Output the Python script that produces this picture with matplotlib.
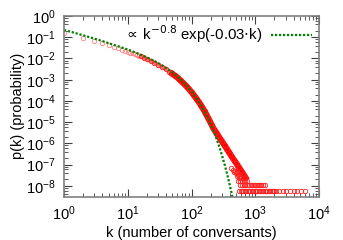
import numpy as np
import matplotlib.pyplot as plt
from matplotlib.ticker import LogLocator, NullFormatter

plt.rcParams['font.family'] = ['Liberation Sans', 'DejaVu Sans']

# measured distribution: individual points at small k
k_low = [1, 2, 3, 4, 5, 6, 7, 8, 9, 10, 11, 12, 13, 14, 15]
p_low = [0.16, 0.095, 0.066, 0.051, 0.042, 0.035, 0.030, 0.026, 0.023, 0.021,
         0.019, 0.0172, 0.0158, 0.0146, 0.0136]

# dense part of the distribution (points overlap into a band)
k_band = [16, 18, 20, 23, 26, 30, 35, 40, 45, 50, 60, 70, 80, 90, 100, 115, 130,
          145, 160, 175, 190, 205, 220, 240, 260, 280, 300, 330, 360, 400, 450,
          500, 550, 600, 650, 700]
p_band = [0.0128, 0.0108, 0.0093, 0.0076, 0.0064, 0.0051, 0.0039, 0.0031,
          0.0024, 0.0019, 0.00128, 8.2e-4, 5.6e-4, 3.8e-4, 2.6e-4, 1.5e-4, 9.0e-5,
          5.4e-5, 3.3e-5, 2.0e-5, 1.25e-5, 8.0e-6, 5.2e-6, 3.5e-6, 2.4e-6, 1.7e-6,
          1.25e-6, 8.1e-7, 5.4e-7, 3.3e-7, 1.9e-7, 1.2e-7, 7.7e-8, 5.1e-8, 3.6e-8,
          2.5e-8]

# tail: p = count * p_unit
p_unit = 5.6e-9
k_scatter = [420, 450, 480, 510, 540, 470, 500, 530, 560, 590, 520, 560, 600,
             640, 680, 540, 580, 620, 660, 700, 740]
n_scatter = [12, 10, 9, 8, 7, 8, 7, 6, 5, 5, 5, 4, 4, 4, 4, 3, 3, 3, 3, 3, 3]
k_two = [580, 620, 660, 700, 750, 800, 850, 900, 950, 1000, 1060, 1120, 1180,
         1250, 1320, 1400]
k_one = [560, 590, 620, 650, 690, 720, 760, 800, 840, 880, 930, 980, 1030, 1080,
         1140, 1200, 1260, 1330, 1400, 1470, 1550, 1630, 1720, 1810, 1900, 2000,
         2100, 2400, 2700, 3000, 3500, 4000, 4500, 5200, 6000]

# fitted curve
k_fit = [1, 1.5, 2, 3, 4, 6, 8, 10, 15, 20, 30, 40, 50, 70, 100, 130, 160, 190,
         220, 250, 280, 310, 340, 370, 400, 430, 460]
p_fit = [0.22, 0.158, 0.123, 0.086, 0.066, 0.044, 0.033, 0.0266, 0.0163, 0.0113,
         0.0061, 0.0036, 0.0022, 9.3e-4, 2.84e-4, 9.3e-5, 3.2e-5, 1.14e-5,
         4.1e-6, 1.5e-6, 5.5e-7, 2.0e-7, 7.5e-8, 2.8e-8, 1.04e-8, 3.9e-9, 1.5e-9]

fig = plt.figure(figsize=(3.43, 2.40), dpi=100)
ax = fig.add_axes([64 / 343, 1 - 196.5 / 240, 255 / 343, 180.5 / 240])

red = '#ff2020'
mk = dict(marker='o', ls='none', mfc='none', ms=3.2, mew=0.6)
ax.plot(k_low, p_low, mec='#ff8080', **mk)
ax.plot(k_band[:10], p_band[:10], '-', color='#ff7070', lw=3.0)
ax.plot(k_band[9:], p_band[9:], '-', color='#ff0000', lw=4.4)
ax.plot(k_band, p_band, mec=red, **mk)
ax.plot(k_scatter, np.array(n_scatter) * p_unit, mec=red, **mk)
ax.plot(k_two, [2 * p_unit] * len(k_two), mec=red, **mk)
ax.plot(k_one, [p_unit] * len(k_one), mec=red, **mk)
ax.plot(k_fit, p_fit, color='#008000', lw=1.6, dashes=(1, 0.8),
        label=r'$\propto\,$k$^{-0.8}$ exp(-0.03$\cdot$k)')

ax.set_xscale('log')
ax.set_yscale('log')
ax.set_xlim(1, 1e4)
ax.set_ylim(10 ** -8.5, 1)
ax.set_yticks([10.0 ** e for e in range(-8, 1)])
ax.yaxis.set_minor_locator(LogLocator(base=10, subs=(2, 4, 6, 8), numticks=20))
ax.yaxis.set_minor_formatter(NullFormatter())
ax.set_xticks([10.0 ** e for e in range(0, 5)])
ax.xaxis.set_minor_locator(LogLocator(base=10, subs=np.arange(2, 10), numticks=20))
ax.xaxis.set_minor_formatter(NullFormatter())

ax.tick_params(which='both', direction='in', top=True, right=True,
               labelsize=10.5, pad=6, color='#404040')
ax.tick_params(which='major', length=6, width=0.8)
ax.tick_params(which='minor', length=3, width=0.6)
for s in ax.spines.values():
    s.set_color('#808080')
    s.set_linewidth(1.2)

ax.set_xlabel('k (number of conversants)', fontsize=10.5, labelpad=2)
ax.set_ylabel('p(k) (probability)', fontsize=10.5, labelpad=1)
ax.legend(loc='upper right', frameon=False, fontsize=10.8, markerfirst=False,
          handlelength=2.7, borderaxespad=0.2, borderpad=0.3,
          handletextpad=0.6)

fig.savefig('out.png', dpi=100)
